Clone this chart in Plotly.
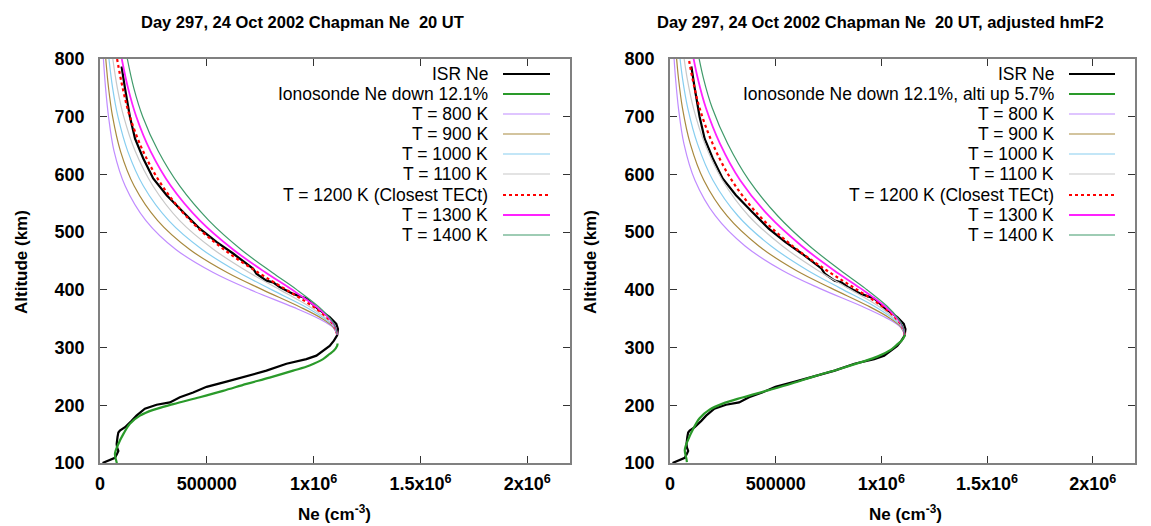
import plotly.graph_objects as go

W, H = 1151, 526

# ---------------- data ----------------
# ISR electron density profile (km, cm^-3)
isr_alt = [100, 104, 109, 116, 121, 127, 133, 145, 153, 156, 162, 173, 182, 194, 201, 205,
           214, 222, 232, 241, 250, 260, 272, 280, 286, 298, 303, 312, 321, 332, 341, 353,
           367, 385, 393, 405, 413, 416, 428, 437, 463, 483, 506, 535, 564, 593, 628, 662,
           700, 749, 787]
isr_ne = [12e3, 35e3, 70e3, 80e3, 86e3, 80e3, 78e3, 82e3, 86e3, 93e3, 117e3, 148e3, 171e3,
          210e3, 265e3, 327e3, 374e3, 436e3, 499e3, 592e3, 686e3, 779e3, 873e3, 966e3,
          1013e3, 1059e3, 1075e3, 1095e3, 1110e3, 1114e3, 1106e3, 1075e3, 1020e3, 966e3,
          904e3, 841e3, 810e3, 779e3, 732e3, 716e3, 623e3, 545e3, 467e3, 389e3, 312e3,
          249e3, 202e3, 164e3, 140e3, 117e3, 101e3]

# Ionosonde profile (Ne down 12.1 %)
iono_alt = [96, 101, 116, 133, 150, 168, 182, 192, 202, 214, 225, 237, 248, 260, 269, 280,
            289, 295, 303, 307]
iono_ne = [80e3, 78e3, 70e3, 86e3, 109e3, 140e3, 187e3, 249e3, 343e3, 467e3, 576e3, 686e3,
           794e3, 904e3, 981e3, 1044e3, 1075e3, 1095e3, 1110e3, 1112e3]
# Ionosonde profile, altitude raised 5.7 %
iono_alt_up = [101.5, 106.8, 122.6, 140.6, 158.6, 177.6, 192.4, 202.9, 213.5, 226.2, 237.8,
               250.5, 262.1, 274.8, 284.3, 296.0, 305.5, 311.8, 320.3, 324.5]

# Chapman topside profiles (same Ne levels, read at these altitudes)
chap_alt = [322, 335, 350, 370, 400, 430, 470, 520, 580, 640, 700, 750, 800]
chap_alt_adj = [322, 335.5, 351, 372, 403, 434, 476, 528, 590, 653, 715, 767, 819]
chap_t800 = [1110e3, 1090e3, 1025e3, 905e3, 705e3, 530e3, 355e3, 215e3, 118e3, 66e3, 40e3, 26e3, 16e3]
chap_t900 = [1110e3, 1093e3, 1040e3, 938e3, 762e3, 595e3, 420e3, 270e3, 160e3, 96e3, 59e3, 40e3, 27e3]
chap_t1000 = [1110e3, 1097e3, 1052e3, 965e3, 805e3, 650e3, 478e3, 322e3, 203e3, 130e3, 84e3, 59e3, 42e3]
chap_t1100 = [1110e3, 1099e3, 1060e3, 985e3, 843e3, 698e3, 532e3, 373e3, 248e3, 165e3, 111e3, 81e3, 60e3]
chap_t1200 = [1110e3, 1100e3, 1068e3, 1002e3, 873e3, 740e3, 580e3, 423e3, 292e3, 202e3, 140e3, 106e3, 80e3]
chap_t1300 = [1110e3, 1102e3, 1074e3, 1015e3, 900e3, 775e3, 623e3, 468e3, 332e3, 237e3, 170e3, 131e3, 102e3]
chap_t1400 = [1110e3, 1103e3, 1078e3, 1026e3, 922e3, 806e3, 660e3, 510e3, 373e3, 273e3, 200e3, 158e3, 128e3]

x_tickvals = [0, 500000, 1000000, 1500000, 2000000]
x_ticktext = ["0", "500000", "1x10<sup>6</sup>", "1.5x10<sup>6</sup>", "2x10<sup>6</sup>"]
y_tickvals = [100, 200, 300, 400, 500, 600, 700, 800]

titles = ["Day 297, 24 Oct 2002 Chapman Ne  20 UT",
          "Day 297, 24 Oct 2002 Chapman Ne  20 UT, adjusted hmF2"]
iono_labels = ["Ionosonde Ne down 12.1%", "Ionosonde Ne down 12.1%, alti up 5.7%"]
t_labels = ["T = 800 K", "T = 900 K", "T = 1000 K", "T = 1100 K",
            "T = 1200 K (Closest TECt)", "T = 1300 K", "T = 1400 K"]

# ---------------- styles ----------------
FONT = "Liberation Sans, Arial, sans-serif"
c_isr = "#000000"
c_iono = "#2a9a2a"
t_styles = [
    dict(color="#c08cff", width=1.2),
    dict(color="#a8893e", width=1.2),
    dict(color="#87cef0", width=1.2),
    dict(color="#c8c8c8", width=1.2),
    dict(color="#ff0000", width=2.2, dash="3px,3px"),
    dict(color="#ff22ff", width=1.8),
    dict(color="#3f9a6a", width=1.2),
]
chap_sets = [chap_t800, chap_t900, chap_t1000, chap_t1100, chap_t1200, chap_t1300, chap_t1400]

fig = go.Figure()

panels = [
    dict(xa="x", ya="y", iono_alt=iono_alt, chap_alt=chap_alt),
    dict(xa="x2", ya="y2", iono_alt=iono_alt_up, chap_alt=chap_alt_adj),
]
ytop, ybot = 59, 463

for p in panels:
    fig.add_trace(go.Scatter(x=isr_ne, y=isr_alt, mode="lines", xaxis=p["xa"], yaxis=p["ya"],
                             line=dict(color=c_isr, width=2.2), showlegend=False))
    fig.add_trace(go.Scatter(x=iono_ne, y=p["iono_alt"], mode="lines", xaxis=p["xa"],
                             yaxis=p["ya"], line=dict(color=c_iono, width=2.2),
                             line_shape="spline", showlegend=False))
    for ne, st in zip(chap_sets, t_styles):
        fig.add_trace(go.Scatter(x=ne, y=p["chap_alt"], mode="lines", xaxis=p["xa"],
                                 yaxis=p["ya"], line=dict(shape="spline", **st),
                                 showlegend=False))

axis_common = dict(
    showline=True, linecolor="#808080", linewidth=1.5, mirror="ticks",
    ticks="inside", ticklen=7, tickcolor="#333333", tickwidth=1,
    showgrid=False, zeroline=False, automargin=False,
    tickfont=dict(family=FONT, size=18, color="#000000", weight="bold"),
)

def dom(px0, px1):
    return [px0 / W, px1 / W]

ydom = [1 - ybot / H, 1 - ytop / H]
fig.update_layout(
    template="none",
    width=W, height=H, margin=dict(l=0, r=0, t=0, b=0, autoexpand=False),
    paper_bgcolor="white", plot_bgcolor="white", showlegend=False,
    xaxis=dict(domain=dom(100, 570), range=[0, 2.2e6], tickvals=x_tickvals,
               ticktext=x_ticktext, anchor="y", ticklabelstandoff=4, **axis_common),
    yaxis=dict(domain=ydom, range=[100, 800], tickvals=y_tickvals, anchor="x",
               ticklabelstandoff=10, **axis_common),
    xaxis2=dict(domain=dom(670, 1135), range=[0, 2.2e6], tickvals=x_tickvals,
                ticktext=x_ticktext, anchor="y2", ticklabelstandoff=4, **axis_common),
    yaxis2=dict(domain=ydom, range=[100, 800], tickvals=y_tickvals, anchor="x2",
                ticklabelstandoff=10, **axis_common),
)

ann = []
shapes = []
title_cx = [302, 880]
ylab_x = [22, 591]
xlab_cx = [334, 905]
leg_text_right = [490, 1056]
leg_line = [(503, 550), (1069, 1115)]
row_y = [74, 94, 114, 134, 154, 174, 195, 215, 235]

for i in range(2):
    ann.append(dict(text="<b>" + titles[i] + "</b>", x=title_cx[i] / W, y=1 - 22 / H,
                    xref="paper", yref="paper", xanchor="center", yanchor="middle",
                    showarrow=False, font=dict(family=FONT, size=16.5, color="#000")))
    ann.append(dict(text="<b>Altitude (km)</b>", x=ylab_x[i] / W, y=1 - 262 / H,
                    xref="paper", yref="paper", xanchor="center", yanchor="middle",
                    textangle=-90, showarrow=False, font=dict(family=FONT, size=17, color="#000")))
    ann.append(dict(text="<b>Ne (cm<sup>-3</sup>)</b>", x=xlab_cx[i] / W, y=1 - 513 / H,
                    xref="paper", yref="paper", xanchor="center", yanchor="middle",
                    showarrow=False, font=dict(family=FONT, size=17, color="#000")))
    labels = ["ISR Ne", iono_labels[i]] + t_labels
    styles = [dict(color=c_isr, width=2.2), dict(color=c_iono, width=2.2)] + t_styles
    for lab, st, ry in zip(labels, styles, row_y):
        ann.append(dict(text=lab, x=leg_text_right[i] / W, y=1 - ry / H, xref="paper",
                        yref="paper", xanchor="right", yanchor="middle", showarrow=False,
                        font=dict(family=FONT, size=17.5, color="#000")))
        x0, x1 = leg_line[i]
        shapes.append(dict(type="line", xref="paper", yref="paper", x0=x0 / W, x1=x1 / W,
                           y0=1 - ry / H, y1=1 - ry / H, line=st))

fig.update_layout(annotations=ann, shapes=shapes)
fig.write_html("out.html", config={"displayModeBar": False},
               post_script="document.body.style.margin='0';document.body.style.overflow='hidden';")
